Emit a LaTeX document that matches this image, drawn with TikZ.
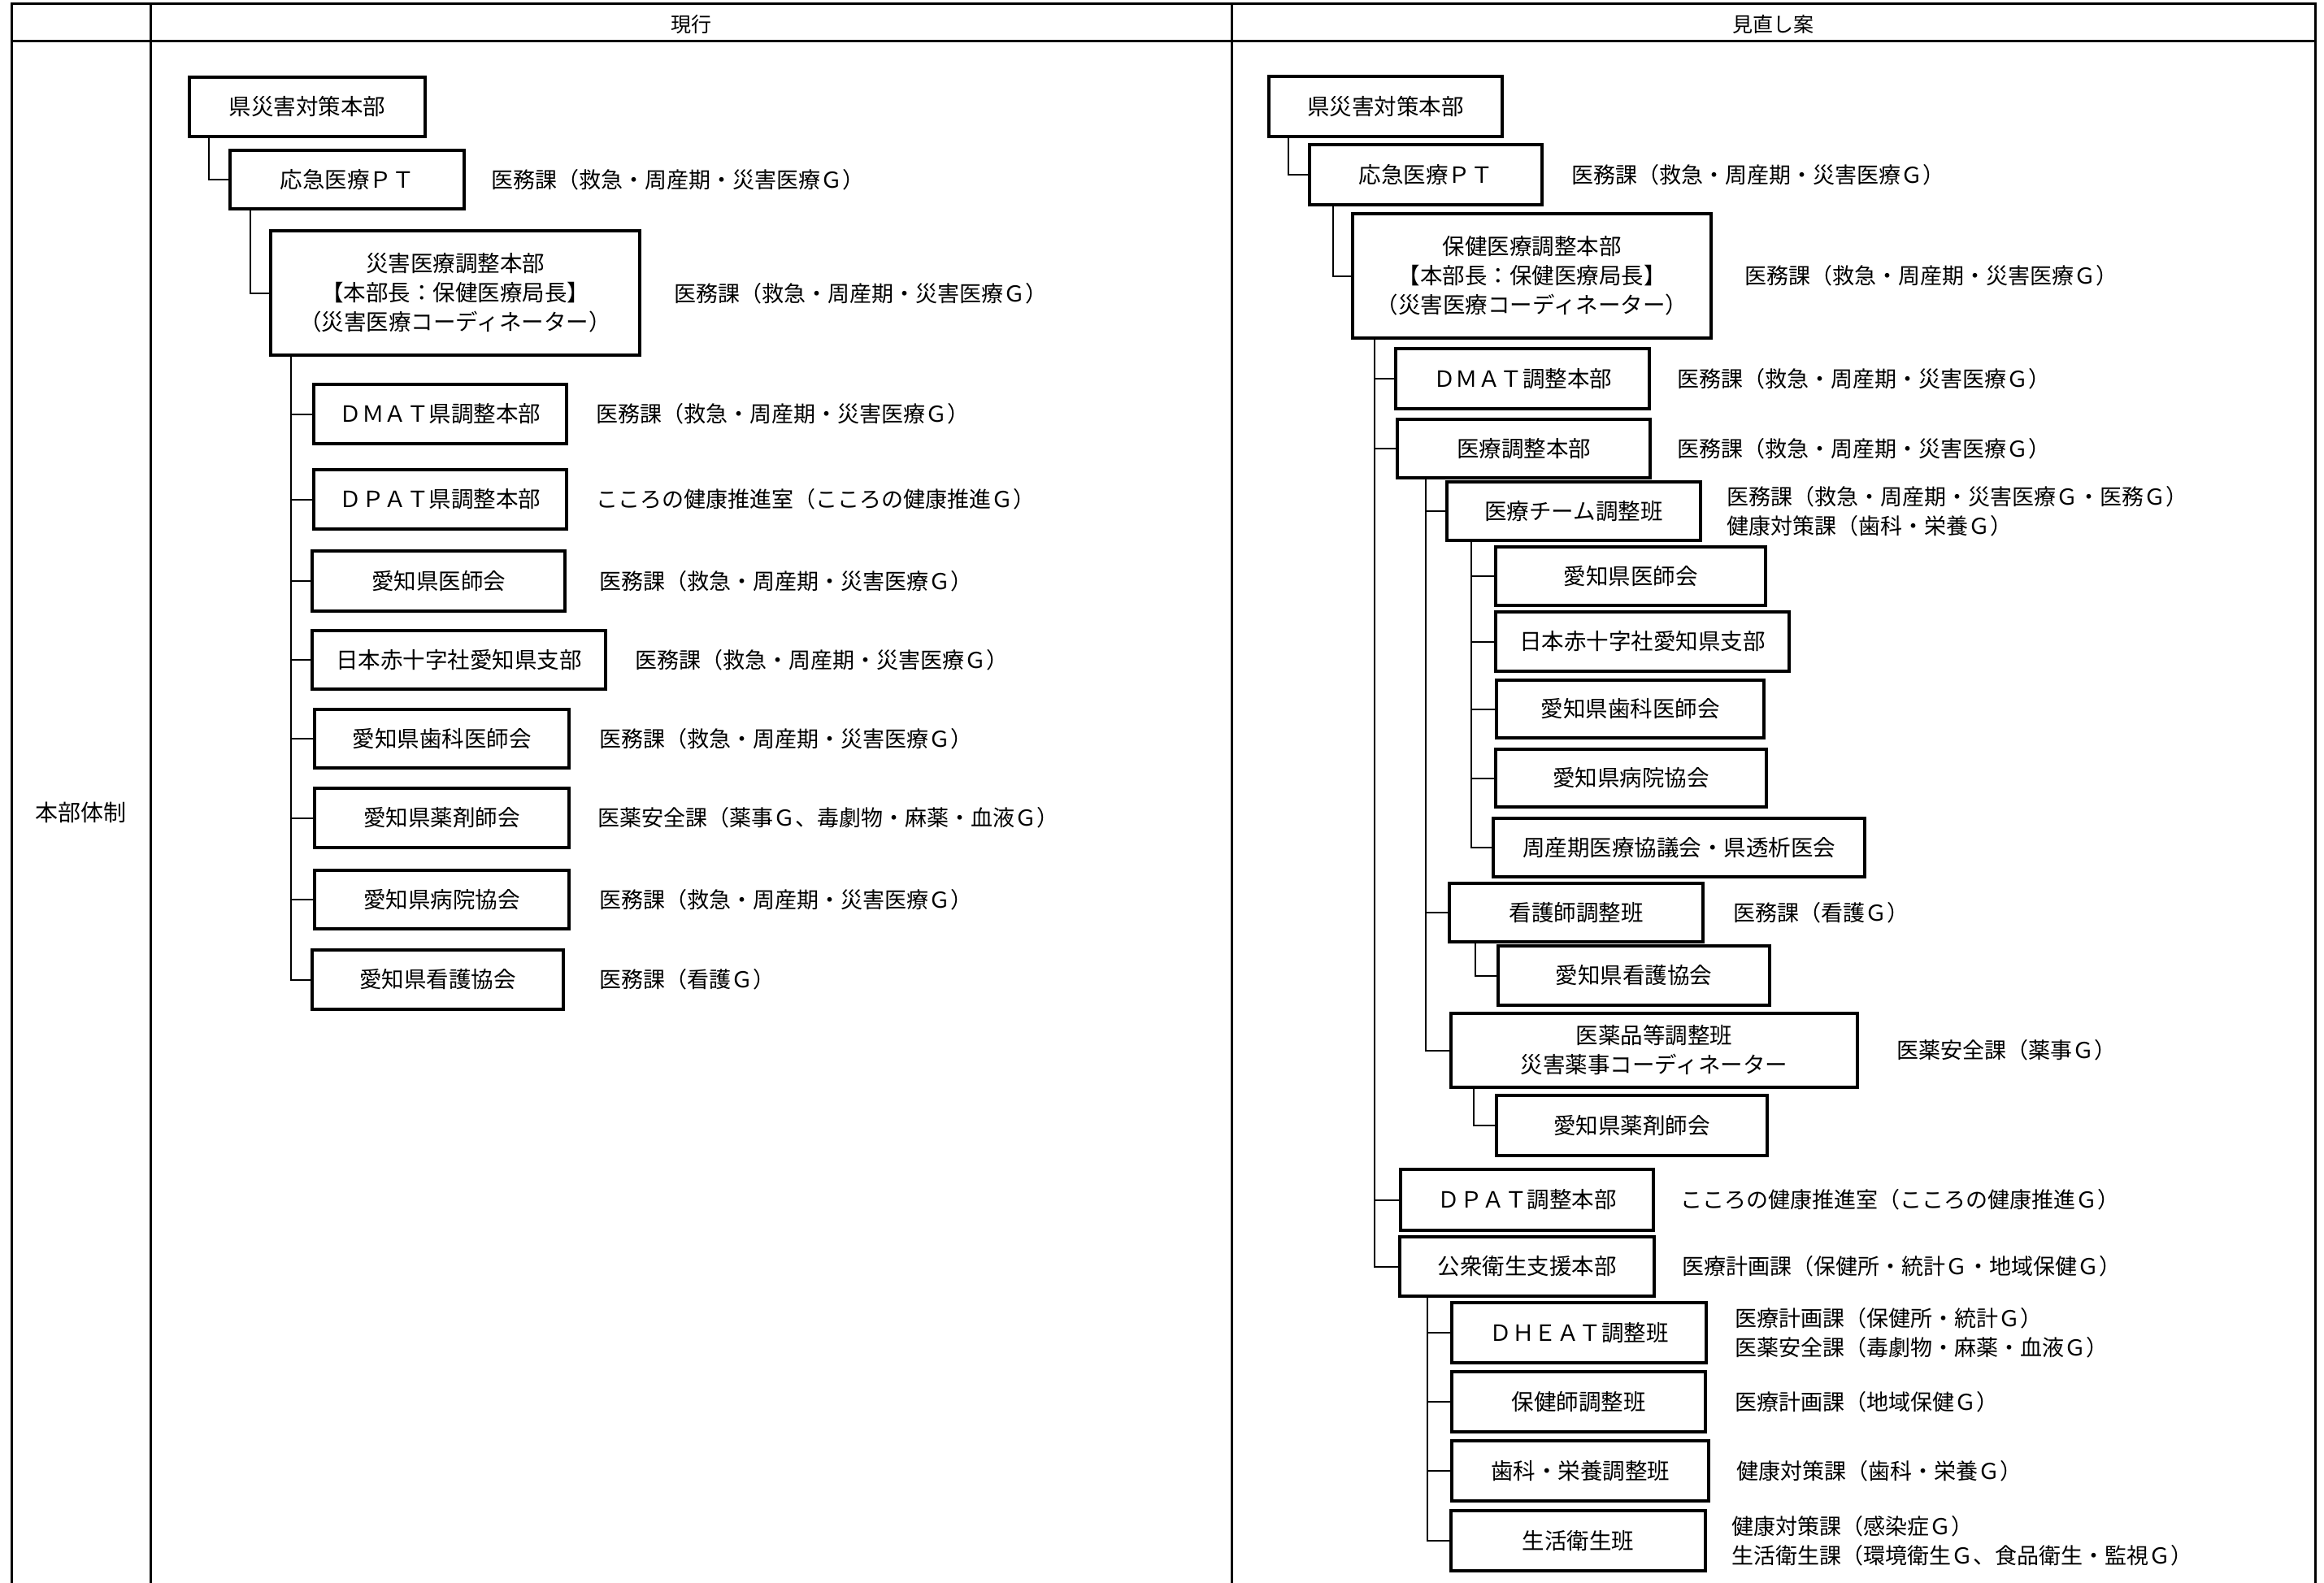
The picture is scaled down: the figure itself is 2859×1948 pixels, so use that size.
\documentclass[tikz,border=0pt]{standalone}
\usepackage{fontspec}
\setmainfont{Noto Sans CJK JP}
\newfontfamily\jpfont{Noto Sans CJK JP}
\begin{document}
\begin{tikzpicture}[x=1pt,y=-1pt]
\tikzset{
  box/.style={draw, line width=3.2pt, inner sep=0pt, align=center, font=\jpfont\fontsize{27.5}{36}\selectfont},
  lbl/.style={anchor=west, inner sep=0pt, align=left, font=\jpfont\fontsize{27}{36}\selectfont},
  conn/.style={line width=2pt},
  tbl/.style={line width=3pt},
  hdr/.style={inner sep=0pt, font=\jpfont\fontsize{25}{28}\selectfont},
  side/.style={inner sep=0pt, font=\jpfont\fontsize{28}{32}\selectfont}
}
\useasboundingbox (0,0) rectangle (2859,1948);
\fill[white] (0,0) rectangle (2859,1948);
% table
\draw[tbl] (14,1948) -- (14,5) -- (2848,5) -- (2848,1948);
\draw[tbl] (14,51) -- (2848,51);
\draw[tbl] (185,5) -- (185,1948);
\draw[tbl] (1515,5) -- (1515,1948);
\node[hdr] (h1) at (850,30) {現行};
\node[hdr] (h2) at (2181,30) {見直し案};
\node[side] (s1) at (99,1000) {本部体制};

% ---------------- left column ----------------
\node[box, minimum width=290, minimum height=73] (L1) at (378,131.5) {県災害対策本部};
\node[box, minimum width=288, minimum height=72] (L2) at (427,221) {応急医療ＰＴ};
\node[box, minimum width=454, minimum height=153] (L3) at (560,360.5) {災害医療調整本部\\【本部長：保健医療局長】\\（災害医療コーディネーター）};
\node[box, minimum width=311, minimum height=73] (LA) at (541.5,509.5) {ＤＭＡＴ県調整本部};
\node[box, minimum width=311, minimum height=73] (LB) at (541.5,614.5) {ＤＰＡＴ県調整本部};
\node[box, minimum width=311, minimum height=74] (LC) at (539.5,715) {愛知県医師会};
\node[box, minimum width=361, minimum height=72] (LD) at (564.5,812) {日本赤十字社愛知県支部};
\node[box, minimum width=313, minimum height=72] (LE) at (543.5,909) {愛知県歯科医師会};
\node[box, minimum width=313, minimum height=73] (LF) at (543.5,1006.5) {愛知県薬剤師会};
\node[box, minimum width=313, minimum height=72] (LG) at (543.5,1107) {愛知県病院協会};
\node[box, minimum width=309, minimum height=73] (LH) at (538.5,1205.5) {愛知県看護協会};

\draw[conn] ([xshift=26pt]L1.south west) |- (L2.west);
\draw[conn] ([xshift=27pt]L2.south west) |- (L3.west);
\foreach \c in {LA,LB,LC,LD,LE,LF,LG,LH}
  \draw[conn] ([xshift=27pt]L3.south west) |- (\c.west);

\node[lbl] (tL2) at (604,221) {医務課（救急・周産期・災害医療Ｇ）};
\node[lbl] (tL3) at (829,361) {医務課（救急・周産期・災害医療Ｇ）};
\node[lbl] (tLA) at (733,509.5) {医務課（救急・周産期・災害医療Ｇ）};
\node[lbl] (tLB) at (733,614.5) {こころの健康推進室（こころの健康推進Ｇ）};
\node[lbl] (tLC) at (737,715) {医務課（救急・周産期・災害医療Ｇ）};
\node[lbl] (tLD) at (781,812) {医務課（救急・周産期・災害医療Ｇ）};
\node[lbl] (tLE) at (737,909) {医務課（救急・周産期・災害医療Ｇ）};
\node[lbl] (tLF) at (735,1006.5) {医薬安全課（薬事Ｇ、毒劇物・麻薬・血液Ｇ）};
\node[lbl] (tLG) at (737,1107) {医務課（救急・周産期・災害医療Ｇ）};
\node[lbl] (tLH) at (737,1205.5) {医務課（看護Ｇ）};

% ---------------- right column ----------------
\node[box, minimum width=287, minimum height=74] (R1) at (1704.5,131) {県災害対策本部};
\node[box, minimum width=286, minimum height=74] (R2) at (1754,215) {応急医療ＰＴ};
\node[box, minimum width=441, minimum height=153] (R3) at (1884.5,339.5) {保健医療調整本部\\【本部長：保健医療局長】\\（災害医療コーディネーター）};
\node[box, minimum width=312, minimum height=74] (RA) at (1873,466) {ＤＭＡＴ調整本部};
\node[box, minimum width=311, minimum height=72] (RB) at (1874.5,552) {医療調整本部};
\node[box, minimum width=312, minimum height=72] (RB1) at (1936,629) {医療チーム調整班};
\node[box, minimum width=332, minimum height=72] (RB1a) at (2006,709) {愛知県医師会};
\node[box, minimum width=361, minimum height=73] (RB1b) at (2020.5,789.5) {日本赤十字社愛知県支部};
\node[box, minimum width=329, minimum height=71] (RB1c) at (2005.5,872.5) {愛知県歯科医師会};
\node[box, minimum width=333, minimum height=71] (RB1d) at (2006.5,957.5) {愛知県病院協会};
\node[box, minimum width=457, minimum height=72] (RB1e) at (2065.5,1043) {周産期医療協議会・県透析医会};
\node[box, minimum width=312, minimum height=72] (RB2) at (1939,1123) {看護師調整班};
\node[box, minimum width=334, minimum height=73] (RB2a) at (2010,1200.5) {愛知県看護協会};
\node[box, minimum width=500, minimum height=91] (RB3) at (2035,1292.5) {医薬品等調整班\\災害薬事コーディネーター};
\node[box, minimum width=333, minimum height=74] (RB3a) at (2007.5,1385) {愛知県薬剤師会};
\node[box, minimum width=311, minimum height=75] (RC) at (1878.5,1476.5) {ＤＰＡＴ調整本部};
\node[box, minimum width=313, minimum height=73] (RD) at (1878.5,1558.5) {公衆衛生支援本部};
\node[box, minimum width=313, minimum height=74] (RD1) at (1942.5,1640) {ＤＨＥＡＴ調整班};
\node[box, minimum width=312, minimum height=74] (RD2) at (1942,1725) {保健師調整班};
\node[box, minimum width=316, minimum height=74] (RD3) at (1944,1810) {歯科・栄養調整班};
\node[box, minimum width=313, minimum height=74] (RD4) at (1941.5,1896) {生活衛生班};

\draw[conn] ([xshift=26pt]R1.south west) |- (R2.west);
\draw[conn] ([xshift=31pt]R2.south west) |- (R3.west);
\foreach \c in {RA,RB,RC,RD}
  \draw[conn] ([xshift=29pt]R3.south west) |- (\c.west);
\foreach \c in {RB1,RB2,RB3}
  \draw[conn] ([xshift=37pt]RB.south west) |- (\c.west);
\foreach \c in {RB1a,RB1b,RB1c,RB1d,RB1e}
  \draw[conn] ([xshift=32pt]RB1.south west) |- (\c.west);
\draw[conn] ([xshift=34pt]RB2.south west) |- (RB2a.west);
\draw[conn] ([xshift=30pt]RB3.south west) |- (RB3a.west);
\foreach \c in {RD1,RD2,RD3,RD4}
  \draw[conn] ([xshift=36pt]RD.south west) |- (\c.west);

\node[lbl] (tR2) at (1933,215) {医務課（救急・周産期・災害医療Ｇ）};
\node[lbl] (tR3) at (2146,339.5) {医務課（救急・周産期・災害医療Ｇ）};
\node[lbl] (tRA) at (2063,466) {医務課（救急・周産期・災害医療Ｇ）};
\node[lbl] (tRB) at (2063,552) {医務課（救急・周産期・災害医療Ｇ）};
\node[lbl] (tRB1) at (2124,629) {医務課（救急・周産期・災害医療Ｇ・医務Ｇ）\\健康対策課（歯科・栄養Ｇ）};
\node[lbl] (tRB2) at (2132,1123) {医務課（看護Ｇ）};
\node[lbl] (tRB3) at (2333,1292.5) {医薬安全課（薬事Ｇ）};
\node[lbl] (tRC) at (2067,1476.5) {こころの健康推進室（こころの健康推進Ｇ）};
\node[lbl] (tRD) at (2069,1558.5) {医療計画課（保健所・統計Ｇ・地域保健Ｇ）};
\node[lbl] (tRD1) at (2134,1640) {医療計画課（保健所・統計Ｇ）\\医薬安全課（毒劇物・麻薬・血液Ｇ）};
\node[lbl] (tRD2) at (2134,1725) {医療計画課（地域保健Ｇ）};
\node[lbl] (tRD3) at (2136,1810) {健康対策課（歯科・栄養Ｇ）};
\node[lbl] (tRD4) at (2130,1896) {健康対策課（感染症Ｇ）\\生活衛生課（環境衛生Ｇ、食品衛生・監視Ｇ）};
\end{tikzpicture}
\end{document}
